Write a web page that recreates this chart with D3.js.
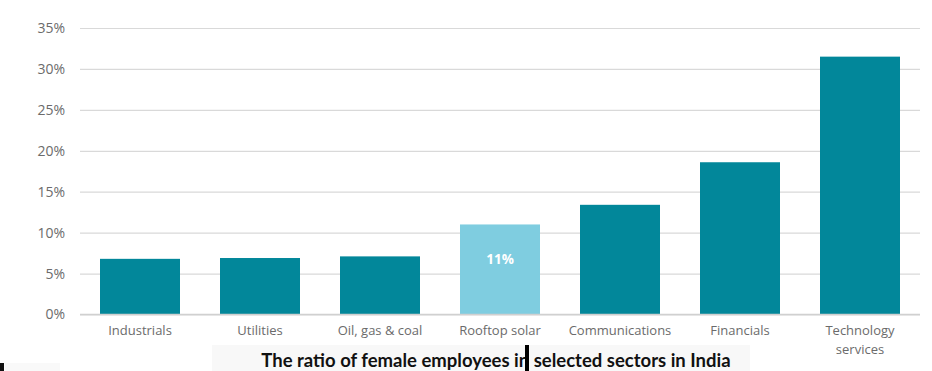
<!DOCTYPE html>
<html>
<head>
<meta charset="utf-8">
<script src="https://cdn.jsdelivr.net/npm/d3@7"></script>
<style>
  html, body { margin: 0; padding: 0; background: #fff; }
  svg { display: block; }
</style>
</head>
<body>
<svg id="chart" width="932" height="371"></svg>
<script>
const categories = ["Industrials", "Utilities", "Oil, gas & coal", "Rooftop solar", "Communications", "Financials", "Technology services"];
const values = [6.8, 6.9, 7.1, 11.0, 13.4, 18.6, 31.5];
const highlight = ["Rooftop solar"];
const tickValues = [0, 5, 10, 15, 20, 25, 30, 35];
const title = "The ratio of female employees in selected sectors in India";

const svg = d3.select("#chart");
const mLeft = 80, mRight = 920, mTop = 28, mBottom = 314.5;

const x = d3.scaleBand().domain(categories).range([mLeft, mRight]).paddingInner(1/3).paddingOuter(1/6);
const y = d3.scaleLinear().domain([0, 35]).range([mBottom, mTop]);

// background artifacts
svg.append("rect").attr("x", 212).attr("y", 345).attr("width", 538).attr("height", 26).attr("fill", "#f8f8f8");
svg.append("rect").attr("x", 5).attr("y", 363).attr("width", 55).attr("height", 8).attr("fill", "#f9f9f9");

// gridlines
const yAxis = d3.axisLeft(y).tickValues(tickValues).tickSize(-(mRight - mLeft)).tickFormat(d => d + "%").tickPadding(15);
const gy = svg.append("g").attr("transform", `translate(${mLeft},0)`).call(yAxis);
gy.select(".domain").remove();
gy.selectAll(".tick line").attr("stroke", "#d9d9d9").attr("stroke-width", 1.2);
gy.selectAll(".tick text").attr("fill", "#6b6b6b").attr("font-family", "'Open Sans', sans-serif").attr("font-size", 14);

// bars
svg.append("g").selectAll("rect").data(categories).join("rect")
  .attr("x", d => x(d))
  .attr("width", x.bandwidth())
  .attr("y", (d, i) => y(values[i]))
  .attr("height", (d, i) => y(0) - y(values[i]))
  .attr("fill", d => highlight.includes(d) ? "#7fcde0" : "#02879a");

// value label
categories.forEach((c, i) => {
  if (highlight.includes(c)) {
    svg.append("text").attr("x", x(c) + x.bandwidth() / 2).attr("y", y(values[i]) + 40)
      .attr("text-anchor", "middle").attr("fill", "#fff").attr("font-weight", "bold")
      .attr("font-family", "'Open Sans', sans-serif").attr("font-size", 13.5)
      .text(Math.round(values[i]) + "%");
  }
});

// x axis baseline
svg.append("line").attr("x1", mLeft).attr("x2", mRight).attr("y1", y(0)).attr("y2", y(0)).attr("stroke", "#d0d0d0").attr("stroke-width", 1.5);

// category labels
const xl = svg.append("g");
categories.forEach(c => {
  const cx = x(c) + x.bandwidth() / 2;
  const t = xl.append("text").attr("x", cx).attr("y", 335).attr("text-anchor", "middle")
    .attr("fill", "#6b6b6b").attr("font-family", "'Open Sans', sans-serif").attr("font-size", 13);
  if (c === "Technology services") {
    t.append("tspan").attr("x", cx).text("Technology");
    t.append("tspan").attr("x", cx).attr("dy", 19).text("services");
  } else {
    t.text(c);
  }
});

// title
svg.append("text").attr("x", 496).attr("y", 367).attr("text-anchor", "middle")
  .attr("font-family", "Lato, sans-serif").attr("font-weight", "bold").attr("font-size", 18.5)
  .attr("fill", "#111").text(title);

// cursor artifacts
svg.append("rect").attr("x", 525).attr("y", 345).attr("width", 4).attr("height", 26).attr("fill", "#000");
svg.append("rect").attr("x", 0).attr("y", 363).attr("width", 4).attr("height", 8).attr("fill", "#111");
</script>
</body>
</html>
